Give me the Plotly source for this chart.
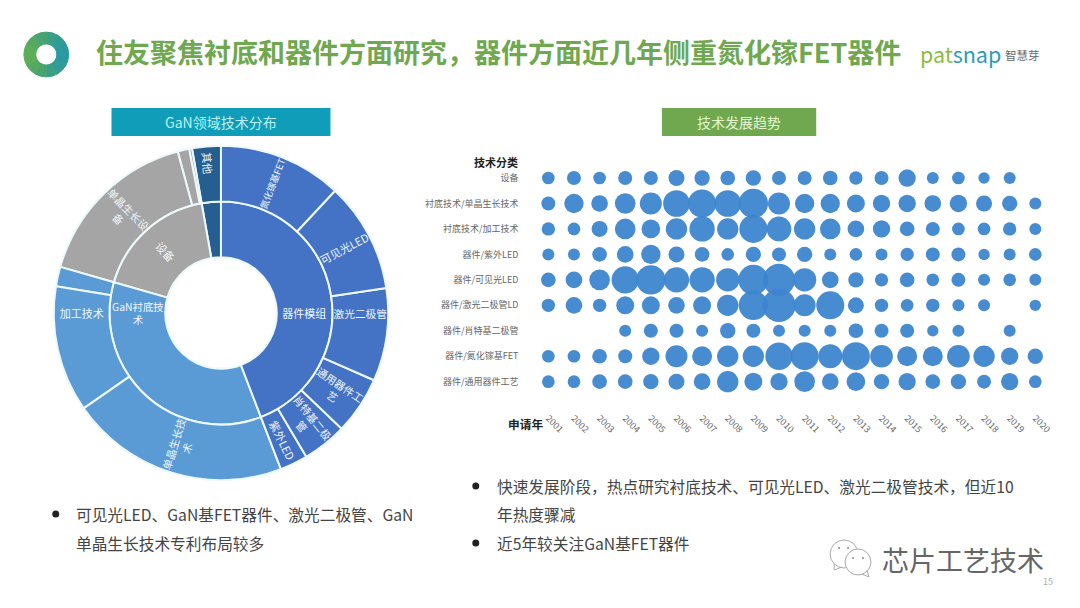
import plotly.graph_objects as go

# sunburst, angles (degrees of the circle)
# plotly walks the ring counterclockwise, so siblings are listed last to first
sun_ids = [
    "root", "其他", "设备", "GaN衬底技术", "器件模组",
    "其他子类",
    "设备其他2", "设备其他1", "单晶生长设备",
    "衬底其他", "加工技术", "单晶生长技术",
    "紫外LED", "肖特基二极管", "通用器件工艺", "激光二极管", "可见光LED", "氮化镓基FET",
]
sun_parents = [
    "", "root", "root", "root", "root",
    "其他",
    "设备", "设备", "设备",
    "GaN衬底技术", "GaN衬底技术", "GaN衬底技术",
    "器件模组", "器件模组", "器件模组", "器件模组", "器件模组", "器件模组",
]
sun_values = [
    360, 10, 64, 127, 159,
    10,
    1, 4, 59,
    6.8, 44, 76.2,
    9.7, 15.5, 20.1, 32.3, 38.4, 43,
]
sun_text = [
    "", "", "设备", "GaN衬底技<br>术", "器件模组",
    "其他",
    "", "", "单晶生长设<br>备",
    "", "加工技术", "单晶生长技<br>术",
    "紫外LED", "肖特基二极<br>管", "通用器件工<br>艺", "激光二极管", "可见光LED", "氮化镓基FET",
]
sun_colors = [
    "#ffffff", "#255e91", "#a5a5a5", "#5b9bd5", "#4472c4",
    "#255e91",
    "#a5a5a5", "#a5a5a5", "#a5a5a5",
    "#5b9bd5", "#5b9bd5", "#5b9bd5",
    "#4472c4", "#4472c4", "#4472c4", "#4472c4", "#4472c4", "#4472c4",
]

# bubble matrix, one list per technology row
years = [str(y) for y in range(2001, 2021)]
categories = [
    "设备", "衬底技术/单晶生长技术", "衬底技术/加工技术", "器件/紫外LED", "器件/可见光LED",
    "器件/激光二极管LD", "器件/肖特基二极管", "器件/氮化镓基FET", "器件/通用器件工艺",
]
equipment = [38, 42, 38, 42, 42, 48, 46, 44, 46, 42, 42, 44, 40, 42, 52, 36, 38, 34, 36, None]
substrate_crystal = [42, 58, 50, 62, 66, 80, 84, 80, 88, 66, 58, 58, 54, 52, 52, 50, 52, 48, 46, 36]
substrate_process = [40, 38, 48, 62, 56, 64, 76, 64, 84, 74, 64, 62, 50, 52, 44, 42, 38, 38, 40, 36]
uv_led = [36, 36, 44, 50, 58, 48, 44, 38, 46, 42, 46, 36, 38, 36, 40, 42, 42, 34, 36, 38]
visible_led = [44, 50, 62, 82, 88, 76, 76, 70, 90, 96, 70, 50, 46, 40, 44, 38, 42, 36, 38, 36]
laser_ld = [40, 50, 40, 54, 54, 50, 54, 64, 88, 100, 66, 84, 48, 40, 38, 40, 36, 36, None, 34]
schottky = [None, None, None, 36, 42, 42, 36, 46, 42, 36, 36, 36, 44, 42, 42, 34, 36, None, 36, None]
gan_fet = [38, 38, 44, 42, 52, 66, 60, 64, 64, 82, 84, 72, 84, 68, 60, 60, 68, 64, 52, 46]
general = [38, 38, 44, 44, 46, 48, 50, 64, 54, 52, 62, 50, 56, 46, 52, 44, 46, 42, 52, 38]
rows = [equipment, substrate_crystal, substrate_process, uv_led, visible_led,
        laser_ld, schottky, gan_fet, general]

CJK = "Noto Sans CJK SC"
W, H = 1080, 608


def px(x):
    return x / W


def py(y):
    return 1 - y / H


def note(x, y, text, size, color="#444444", anchor="left", **kw):
    """Text placed by picture pixels"""
    return dict(
        x=px(x), y=py(y), xref="paper", yref="paper", text=text, showarrow=False,
        xanchor=anchor, yanchor="middle", align=anchor,
        font=dict(family=CJK, size=size, color=color), **kw,
    )


def circle(cx, cy, r, **kw):
    return dict(type="circle", xref="paper", yref="paper", x0=px(cx - r), x1=px(cx + r),
                y0=py(cy + r), y1=py(cy - r), **kw)


def rect(x0, y0, x1, y1, color):
    return dict(type="rect", xref="paper", yref="paper", x0=px(x0), x1=px(x1),
                y0=py(y1), y1=py(y0), fillcolor=color, line_width=0)


fig = go.Figure()

fig.add_sunburst(
    ids=sun_ids,
    labels=sun_ids,
    parents=sun_parents,
    values=sun_values,
    text=sun_text,
    textinfo="text",
    branchvalues="total",
    sort=False,
    rotation=90,
    insidetextorientation="radial",
    insidetextfont=dict(family=CJK, size=11, color="#f2f6fb"),
    leaf=dict(opacity=1),
    marker=dict(colors=sun_colors, line=dict(color="#eef9fb", width=2)),
    domain=dict(x=[px(222 - 168), px(222 + 168)], y=[py(313 + 168), py(313 - 168)]),
)

# logo ring, slices only carry the green to teal gradient
ring_weights = [1] * 12
ring_colors = ["#3a9f85", "#2f9c95", "#2a9aa0", "#2a9aa0", "#2f9c95", "#3a9f85",
               "#48a372", "#55a862", "#5cae58", "#5cae58", "#55a862", "#48a372"]
fig.add_pie(
    values=ring_weights, hole=0.47, sort=False, direction="clockwise", textinfo="none",
    hoverinfo="skip", marker=dict(colors=ring_colors, line=dict(color=ring_colors, width=1)),
    showlegend=False, domain=dict(x=[px(24), px(69)], y=[py(77), py(32)]),
)

for name, values in zip(categories, rows):
    present = [(y, v) for y, v in zip(years, values) if v is not None]
    fig.add_scatter(
        x=[p[0] for p in present],
        y=[name] * len(present),
        mode="markers",
        showlegend=False,
        marker=dict(size=[p[1] for p in present], sizemode="diameter", sizeref=3,
                    color="#3d85cf", opacity=0.95, line_width=0),
    )

fig.update_xaxes(
    domain=[px(538), px(1053)], range=[-0.5, 19.5], type="category", categoryorder="array",
    categoryarray=years, tickangle=45, ticklabelstandoff=16, showgrid=False, zeroline=False,
    showline=False, tickfont=dict(family=CJK, size=9, color="#666666"),
)
fig.update_yaxes(
    domain=[py(394.4), py(165.3)], range=[8.5, -0.5], type="category", categoryorder="array",
    categoryarray=categories, ticklabelstandoff=16, showgrid=False, zeroline=False,
    showline=False, tickfont=dict(family=CJK, size=9, color="#666666"),
)

shapes = [
    rect(112, 108, 332, 136, "#0f9db9"),
    rect(665, 108, 820, 136, "#6fa84f"),
    circle(56, 514, 3.5, fillcolor="#222222", line_width=0),
    circle(478, 486, 3.5, fillcolor="#222222", line_width=0),
    circle(478, 543, 3.5, fillcolor="#222222", line_width=0),
    # wechat mark
    circle(848, 554, 14, fillcolor="#ffffff", line=dict(color="#aaaaaa", width=1)),
    dict(type="path", xref="paper", yref="paper",
         path=f"M {px(838)} {py(564)} L {px(838)} {py(570)} L {px(846)} {py(567)}",
         line=dict(color="#aaaaaa", width=1)),
    circle(862, 562, 13, fillcolor="#ffffff", line=dict(color="#aaaaaa", width=1)),
    dict(type="path", xref="paper", yref="paper",
         path=f"M {px(866)} {py(574)} L {px(873)} {py(577)} L {px(871)} {py(570)}",
         line=dict(color="#aaaaaa", width=1)),
    circle(843, 548, 1, fillcolor="#888888", line_width=0),
    circle(852, 548, 1, fillcolor="#888888", line_width=0),
    circle(857, 558, 1, fillcolor="#888888", line_width=0),
    circle(867, 558, 1, fillcolor="#888888", line_width=0),
]

annotations = [
    note(94, 52, "<b>住友聚焦衬底和器件方面研究，器件方面近几年侧重氮化镓FET器件</b>", 27, "#6fa84f"),
    note(922, 54, '<span style="color:#8dbb3f">pat</span><span style="color:#2e9cb5">snap</span>', 21.5),
    note(1008, 55, "智慧芽", 11.5, "#666666"),
    note(222, 122, "GaN领域技术分布", 14, "#b8f2f2", anchor="center"),
    note(742, 122, "技术发展趋势", 14, "#e4f5cf", anchor="center"),
    note(522, 162, "<b>技术分类</b>", 11, "#222222", anchor="right"),
    note(548, 423, "<b>申请年</b>", 11.7, "#222222", anchor="right"),
    note(74, 514, "可见光LED、GaN基FET器件、激光二极管、GaN", 15.7),
    note(74, 543, "单晶生长技术专利布局较多", 15.7),
    note(497, 486, "快速发展阶段，热点研究衬底技术、可见光LED、激光二极管技术，但近10", 15.7),
    note(497, 514, "年热度骤减", 15.7),
    note(497, 543, "近5年较关注GaN基FET器件", 15.7),
    note(884, 559, "芯片工艺技术", 27, "#666666"),
    note(1053, 581, "15", 9, "#aaaaaa", anchor="center"),
]

fig.update_layout(
    width=W,
    height=H,
    margin=dict(l=0, r=0, t=0, b=0),
    paper_bgcolor="#ffffff",
    plot_bgcolor="#ffffff",
    shapes=shapes,
    annotations=annotations,
    showlegend=False,
)

fig.write_html("out.html", config={"displayModeBar": False},
               post_script="document.body.style.margin='0';")
